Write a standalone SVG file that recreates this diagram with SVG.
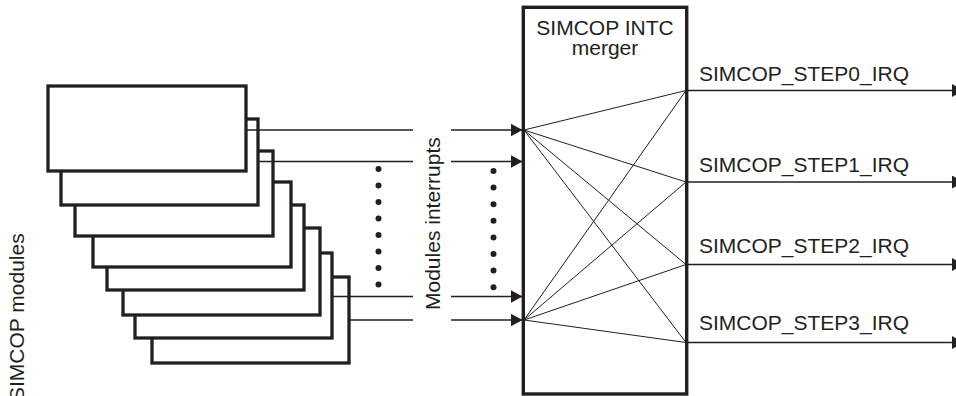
<svg xmlns="http://www.w3.org/2000/svg" width="956" height="396" viewBox="0 0 956 396">
<style>
  .mod { fill: #ffffff; stroke: #231f20; stroke-width: 3.3; }
  .box { fill: #ffffff; stroke: #231f20; stroke-width: 3.4; }
  .wire { stroke: #231f20; stroke-width: 1.3; fill: none; }
  .fan { stroke: #231f20; stroke-width: 1; fill: none; }
  .dot { fill: #231f20; }
  .lbl { font-family: "Liberation Sans", Arial, sans-serif; font-size: 21px; fill: #231f20; }
</style>
<defs>
  <marker id="arr" markerUnits="userSpaceOnUse" markerWidth="13" markerHeight="14" refX="12" refY="6.5" orient="auto">
    <path d="M0,0 L12,6.5 L0,13 Z" fill="#231f20"/>
  </marker>
</defs>
<rect width="956" height="396" fill="#ffffff"/>

<g id="modules">
  <rect class="mod" x="152" y="277" width="197" height="86"/>
  <rect class="mod" x="135" y="253" width="197" height="85"/>
  <rect class="mod" x="123" y="228" width="197" height="87"/>
  <rect class="mod" x="107" y="205" width="197" height="85"/>
  <rect class="mod" x="93" y="182" width="198" height="85"/>
  <rect class="mod" x="75" y="151" width="198" height="85"/>
  <rect class="mod" x="61" y="119" width="197" height="86"/>
  <rect class="mod" x="48" y="86" width="198" height="85"/>
  <text class="lbl" transform="translate(24,401) rotate(-90)">SIMCOP modules</text>
</g>

<g id="merger">
  <rect class="box" x="523.3" y="7.3" width="163.4" height="386.7"/>
  <text class="lbl" x="605" y="34.5" text-anchor="middle">SIMCOP INTC</text>
  <text class="lbl" x="605" y="55" text-anchor="middle">merger</text>
</g>

<g id="interrupts-label">
  <text class="lbl" transform="translate(440,310) rotate(-90)">Modules interrupts</text>
</g>

<g id="dots">
  <circle class="dot" cx="378.5" cy="169" r="3"/>
  <circle class="dot" cx="378.5" cy="185.5" r="3"/>
  <circle class="dot" cx="378.5" cy="202" r="3"/>
  <circle class="dot" cx="378.5" cy="218.5" r="3"/>
  <circle class="dot" cx="378.5" cy="235" r="3"/>
  <circle class="dot" cx="378.5" cy="251.5" r="3"/>
  <circle class="dot" cx="378.5" cy="268" r="3"/>
  <circle class="dot" cx="378.5" cy="284.5" r="3"/>
  <circle class="dot" cx="493.5" cy="171" r="3"/>
  <circle class="dot" cx="493.5" cy="187.6" r="3"/>
  <circle class="dot" cx="493.5" cy="204.2" r="3"/>
  <circle class="dot" cx="493.5" cy="220.8" r="3"/>
  <circle class="dot" cx="493.5" cy="237.4" r="3"/>
  <circle class="dot" cx="493.5" cy="254" r="3"/>
  <circle class="dot" cx="493.5" cy="270.6" r="3"/>
  <circle class="dot" cx="493.5" cy="287.2" r="3"/>
</g>

<g id="connectors">
  <line class="wire" x1="246" y1="130" x2="413" y2="130"/>
  <line class="wire" x1="258" y1="161.5" x2="413" y2="161.5"/>
  <line class="wire" x1="332" y1="296.5" x2="413" y2="296.5"/>
  <line class="wire" x1="349" y1="320" x2="413" y2="320"/>
  <line class="wire" x1="451" y1="130" x2="522.5" y2="130" marker-end="url(#arr)"/>
  <line class="wire" x1="451" y1="161.5" x2="522.5" y2="161.5" marker-end="url(#arr)"/>
  <line class="wire" x1="451" y1="296.5" x2="522.5" y2="296.5" marker-end="url(#arr)"/>
  <line class="wire" x1="451" y1="320" x2="522.5" y2="320" marker-end="url(#arr)"/>

  <line class="fan" x1="524" y1="130" x2="686" y2="90.5"/>
  <line class="fan" x1="524" y1="130" x2="686" y2="182"/>
  <line class="fan" x1="524" y1="130" x2="686" y2="264.5"/>
  <line class="fan" x1="524" y1="130" x2="686" y2="342.5"/>
  <line class="fan" x1="524" y1="320" x2="686" y2="90.5"/>
  <line class="fan" x1="524" y1="320" x2="686" y2="182"/>
  <line class="fan" x1="524" y1="320" x2="686" y2="264.5"/>
  <line class="fan" x1="524" y1="320" x2="686" y2="342.5"/>

  <line class="wire" x1="687" y1="90.5" x2="964" y2="90.5" marker-end="url(#arr)"/>
  <line class="wire" x1="687" y1="182" x2="964" y2="182" marker-end="url(#arr)"/>
  <line class="wire" x1="687" y1="264.5" x2="964" y2="264.5" marker-end="url(#arr)"/>
  <line class="wire" x1="687" y1="342.5" x2="964" y2="342.5" marker-end="url(#arr)"/>
</g>

<g id="outputs">
  <text class="lbl" x="699" y="81">SIMCOP_STEP0_IRQ</text>
  <text class="lbl" x="699" y="172">SIMCOP_STEP1_IRQ</text>
  <text class="lbl" x="699" y="253">SIMCOP_STEP2_IRQ</text>
  <text class="lbl" x="699" y="330">SIMCOP_STEP3_IRQ</text>
</g>
</svg>
